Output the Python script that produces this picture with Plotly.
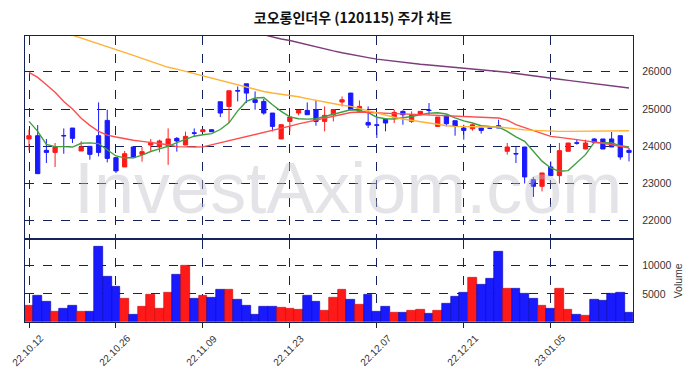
import plotly.graph_objects as go

dates = ["22.10.12","22.10.13","22.10.14","22.10.17","22.10.18","22.10.19","22.10.20","22.10.21","22.10.24","22.10.25",
         "22.10.26","22.10.27","22.10.28","22.10.31","22.11.01","22.11.02","22.11.03","22.11.04","22.11.07","22.11.08",
         "22.11.09","22.11.10","22.11.11","22.11.14","22.11.15","22.11.16","22.11.17","22.11.18","22.11.21","22.11.22",
         "22.11.23","22.11.24","22.11.25","22.11.28","22.11.29","22.11.30","22.12.01","22.12.02","22.12.05","22.12.06",
         "22.12.07","22.12.08","22.12.09","22.12.12","22.12.13","22.12.14","22.12.15","22.12.16","22.12.19","22.12.20",
         "22.12.21","22.12.22","22.12.23","22.12.26","22.12.27","22.12.28","22.12.29","23.01.02","23.01.03","23.01.04",
         "23.01.05","23.01.06","23.01.09","23.01.10","23.01.11","23.01.12","23.01.13","23.01.16","23.01.17","23.01.18"]

opens = [24196,24284,23890,23836,24290,24490,23874,23998,24284,24695,
         23694,23445,23981,23783,24034,23981,24016,24212,24034,24360,
         24391,24445,25195,25070,25495,25678,25249,25204,24892,24196,
         24668,24892,24964,24981,24668,24847,25187,25428,24937,24640,
         24575,24730,24785,24937,24668,24847,24970,24534,24820,24686,
         24490,24470,24490,24495,24552,23865,23805,23981,23104,22925,
         23445,23212,23865,24093,23927,24196,24196,24196,24284,23890]
highs = [24445,24570,24196,24088,24480,24490,24133,23998,25177,24981,
         23694,23874,23981,23981,24196,24177,24480,24249,24391,24480,
         24460,24460,25195,25490,25606,25678,25472,25268,24892,24196,
         24785,24964,25177,25231,25070,24981,25338,25428,25231,25070,
         24800,24730,24981,24964,24937,24937,25160,24785,24820,24686,
         24579,24600,24490,24500,24713,24088,23981,23981,23177,23284,
         23595,24088,24088,24196,24177,24220,24196,24383,24284,23955]
lows = [23890,23265,23552,23445,23800,24088,23874,23640,23730,23568,
        23284,23445,23694,23587,23874,23836,23500,23855,24034,24249,
        24391,24391,24785,24625,25204,25160,24981,24847,24400,24196,
        24400,24830,24847,24552,24400,24668,25070,24981,24892,24490,
        24222,24400,24625,24579,24625,24847,24847,24534,24534,24284,
        24177,24420,24340,24490,24490,23775,23552,23000,22640,22790,
        23212,23000,23865,24043,23927,24080,23927,23981,23640,23595]
closes = [24284,23265,23836,23981,24280,24212,23981,23783,23836,23675,
          23338,23800,23694,23855,24105,24142,24196,24142,24266,24350,
          24445,24391,24892,25490,25485,25428,25177,24892,24534,24579,
          24785,24964,24847,24668,24830,24981,25249,24981,25070,24570,
          24565,24625,24910,24847,24847,24937,24960,24785,24606,24534,
          24426,24575,24426,24485,24490,23981,23795,23177,22925,23284,
          23212,23882,24088,24083,24088,24105,23927,23981,23713,23836]
volumes = [2860,4640,3570,1790,2320,2860,1790,1790,13390,8040,
           6250,4110,1250,2680,4880,2320,5180,8390,9940,4110,
           4640,4290,5710,5710,3930,2860,1250,2680,2680,2500,
           2320,2140,4640,3570,1960,4290,5710,3930,3040,4820,
           1790,2680,1610,1610,1960,2140,1430,1960,3210,4460,
           5180,7860,6610,7680,12500,5890,5890,5000,4110,2860,
           2320,5890,2140,1250,1070,3930,3750,5000,5180,1610]
ma5 = [24668,24400,24050,23990,23990,23980,24080,24090,24070,23900,
       23740,23690,23690,23760,23860,23930,24000,24100,24180,24270,
       24310,24340,24450,24630,24950,25204,25295,25311,25116,24937,
       24790,24740,24730,24740,24800,24866,24930,24981,24964,24900,
       24780,24740,24732,24760,24800,24847,24890,24900,24866,24760,
       24680,24625,24552,24530,24517,24400,24250,24133,23870,23600,
       23418,23328,23346,23552,23775,24105,24105,24088,24016,23981]
ma20 = [25981,25850,25650,25450,25200,25000,24750,24560,24400,24300,
        24249,24200,24160,24130,24100,24088,24040,23990,23981,23981,
        23985,24040,24090,24140,24200,24250,24300,24360,24420,24480,
        24540,24600,24650,24700,24760,24820,24870,24905,24919,24905,
        24893,24885,24877,24870,24860,24847,24838,24829,24815,24805,
        24795,24785,24775,24765,24758,24700,24580,24500,24420,24330,
        24266,24240,24200,24180,24145,24120,24080,24040,24000,23954]
ma60 = [None,None,None,None,27060,26985,26910,26835,26760,26685,
        26608,26525,26440,26360,26276,26200,26120,26070,26010,25950,
        25893,25830,25770,25710,25640,25590,25540,25470,25430,25400,
        25360,25330,25280,25230,25180,25150,25100,25070,25010,24950,
        24893,24840,24780,24732,24690,24650,24625,24590,24550,24534,
        24525,24517,24517,24517,24517,24490,24460,24440,24427,24415,
        24405,24400,24400,24400,24400,24405,24410,24410,24415,24418]
ma120 = [None]*26 + [27050,26990,26940,26880,
         26839,26780,26720,26660,26605,26560,26510,26460,26420,26380,
         26340,26310,26280,26250,26220,26200,26180,26160,26140,26120,
         26099,26080,26055,26035,26010,25985,25955,25920,25890,25860,
         25831,25800,25770,25740,25705,25675,25645,25615,25590,25563]

price_ticks = [22000, 23000, 24000, 25000, 26000]
price_labels = ["22000", "23000", "24000", "25000", "26000"]
vol_ticks = [5000, 10000]
vol_labels = ["5000", "10000"]
xtick_idx = [0, 10, 20, 30, 40, 50, 60]

RED = "#ff1a1a"
BLUE = "#1a1aff"
GRID = "#13235a"
idx = list(range(len(dates)))

fig = go.Figure()

# watermark (drawn first, behind marks)
fig.add_trace(go.Scatter(x=[36.7], y=[22700], mode="text", text=["InvestAxiom.com"],
                         textfont=dict(size=72, color="rgba(190,190,200,0.42)", family="Liberation Sans, Arial"),
                         hoverinfo="skip", showlegend=False, xaxis="x", yaxis="y", cliponaxis=False))

fig.add_trace(go.Candlestick(x=idx, open=opens, high=highs, low=lows, close=closes,
                             increasing=dict(line=dict(color=RED, width=1), fillcolor=RED),
                             decreasing=dict(line=dict(color=BLUE, width=1), fillcolor=BLUE),
                             showlegend=False, xaxis="x", yaxis="y"))

for vals, col in [(ma5, "#3f9f3f"), (ma20, "#ff4d4d"), (ma60, "#ffb234"), (ma120, "#7a3c7a")]:
    fig.add_trace(go.Scatter(x=idx, y=vals, mode="lines", line=dict(color=col, width=1.4),
                             showlegend=False, xaxis="x", yaxis="y", hoverinfo="skip"))

vcols = [RED if c > o else BLUE for o, c in zip(opens, closes)]
vline = ["#cc0000" if c > o else "#0000b0" for o, c in zip(opens, closes)]
fig.add_trace(go.Bar(x=idx, y=volumes, marker=dict(color=vcols, line=dict(color=vline, width=0.6)),
                     width=1.0, showlegend=False, xaxis="x2", yaxis="y2"))

axis_common = dict(showline=True, linecolor=GRID, linewidth=1.2, mirror=True, automargin=False,
                   showgrid=True, gridcolor=GRID, griddash="dash", gridwidth=1, zeroline=False)
tickfont = dict(family="Liberation Sans, Arial", size=10.5, color="#333333")

# rotated date labels, centred under their ticks
date_annotations = [dict(text=dates[i], x=i, xref="x2", y=-0.098, yref="paper", xshift=-1.5,
                         textangle=-45, xanchor="center", yanchor="middle", showarrow=False,
                         font=dict(family="Liberation Sans, Arial", size=10, color="#333333"))
                    for i in xtick_idx]

# the page body adds an 8px offset, so the figure is 8px smaller and margins compensate
fig.update_layout(
    width=690, height=370,
    margin=dict(l=17, r=65, t=28, b=56),
    paper_bgcolor="white", plot_bgcolor="white",
    title=dict(text="코오롱인더우 (120115) 주가 차트", x=0.5, xanchor="center", y=0.973, yanchor="middle",
               font=dict(family="Noto Sans CJK KR", size=14, color="#111111", weight="bold")),
    xaxis=dict(domain=[0, 1], anchor="y", range=[-0.46, 69.46], tickvals=xtick_idx,
               showticklabels=False, ticks="", rangeslider=dict(visible=False), **axis_common),
    xaxis2=dict(domain=[0, 1], anchor="y2", range=[-0.46, 69.46], matches="x", tickvals=xtick_idx,
                showticklabels=False, ticks="outside", ticklen=5, tickcolor="#222222", **axis_common),
    yaxis=dict(domain=[0.294, 1], anchor="x", side="right", range=[21540, 26960], tickvals=price_ticks,
               ticktext=price_labels, ticks="outside", ticklen=6, tickcolor="rgba(0,0,0,0)",
               tickfont=tickfont, **axis_common),
    yaxis2=dict(domain=[0, 0.288], anchor="x2", side="right", range=[0, 14640], tickvals=vol_ticks,
                ticktext=vol_labels, ticks="outside", ticklen=6, tickcolor="rgba(0,0,0,0)", tickfont=tickfont,
                title=dict(text="Volume", font=dict(family="Liberation Sans, Arial", size=10.5, color="#333333"),
                           standoff=4), **axis_common),
    annotations=date_annotations,
    bargap=0, boxgap=0.3,
)

fig.write_html("out.html")
